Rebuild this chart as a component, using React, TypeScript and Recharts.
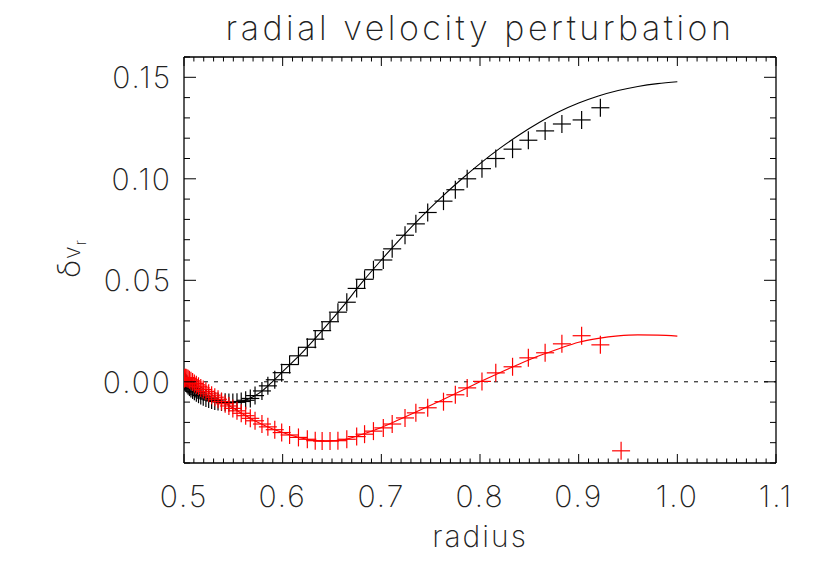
import React from 'react';
import { ComposedChart, Scatter, Line, XAxis, YAxis, Label } from 'recharts';

// ---- data ----
const markerRadius = [
  0.5, 0.5005, 0.5012, 0.502, 0.503, 0.5042, 0.5055, 0.507, 0.5087, 0.5105,
  0.5125, 0.5147, 0.517, 0.5195, 0.5222, 0.525, 0.528, 0.5312, 0.5345, 0.538,
  0.5417, 0.5455, 0.5495, 0.5537, 0.558, 0.5625, 0.5672, 0.572, 0.579, 0.585,
  0.592, 0.599, 0.607, 0.616, 0.625, 0.633, 0.64, 0.648, 0.656, 0.665,
  0.675, 0.683, 0.692, 0.702, 0.711, 0.724, 0.735, 0.747, 0.763, 0.775,
  0.787, 0.802, 0.816, 0.833, 0.849, 0.866, 0.883, 0.903, 0.922, 0.943,
];

const blackMarkerValues = [
  0.001, 0.0005, 0.0, -0.0006, -0.0012, -0.0019, -0.0026, -0.0033, -0.004, -0.0047,
  -0.0054, -0.0061, -0.0068, -0.0074, -0.008, -0.0085, -0.009, -0.0094, -0.0097, -0.0099,
  -0.0101, -0.0102, -0.0102, -0.0101, -0.0097, -0.0091, -0.0082, -0.0068, -0.0045, -0.002,
  0.001, 0.0045, 0.0085, 0.0128, 0.017, 0.021, 0.0252, 0.0296, 0.0343, 0.0392,
  0.046, 0.0505, 0.0552, 0.06, 0.0655, 0.0722, 0.0778, 0.0834, 0.089, 0.0946,
  0.1, 0.105, 0.11, 0.1146, 0.119, 0.1236, 0.127, 0.129, 0.135,
];

const redMarkerValues = [
  0.0015, 0.0018, 0.002, 0.002, 0.0018, 0.0015, 0.001, 0.0005, -0.0001, -0.0008,
  -0.0015, -0.0022, -0.003, -0.0038, -0.0047, -0.0056, -0.0066, -0.0076, -0.0086, -0.0097,
  -0.0108, -0.0119, -0.0131, -0.0143, -0.0155, -0.0167, -0.018, -0.0192, -0.0208, -0.0222,
  -0.0236, -0.025, -0.0262, -0.0274, -0.0283, -0.029, -0.0292, -0.0292, -0.029, -0.0283,
  -0.027, -0.0258, -0.0243, -0.0227, -0.0208, -0.0178, -0.0153, -0.0128, -0.0098, -0.0064,
  -0.003, 0.0002, 0.0044, 0.0074, 0.0118, 0.0143, 0.0187, 0.0227, 0.0182, -0.034,
];

const curveRadius = [
  0.5, 0.505, 0.51, 0.52, 0.53, 0.54, 0.55, 0.56, 0.57, 0.58,
  0.59, 0.6, 0.62, 0.64, 0.66, 0.68, 0.7, 0.72, 0.74, 0.76,
  0.78, 0.8, 0.82, 0.84, 0.86, 0.88, 0.9, 0.92, 0.94, 0.96,
  0.98, 1.0,
];

const blackCurveValues = [
  0.0012, -0.0022, -0.0045, -0.0075, -0.0092, -0.01, -0.0102, -0.0094, -0.0074, -0.0042,
  0.0002, 0.005, 0.0145, 0.0252, 0.0365, 0.0487, 0.06, 0.0708, 0.081, 0.0905,
  0.0993, 0.1075, 0.115, 0.1217, 0.1277, 0.133, 0.1373, 0.1408, 0.1435, 0.1455,
  0.1469, 0.1478,
];

const redCurveValues = [
  0.002, 0.0008, -0.0005, -0.0035, -0.007, -0.01, -0.013, -0.016, -0.0188, -0.0212,
  -0.0233, -0.025, -0.0278, -0.0292, -0.0287, -0.026, -0.0225, -0.0182, -0.0138, -0.0093,
  -0.0047, 0.0, 0.0045, 0.0088, 0.0128, 0.0163, 0.0195, 0.0214, 0.0226, 0.0231,
  0.023, 0.0225,
];

const zeroLineRadius = [0.5, 1.1];
const zeroLineValues = [0, 0];

const xMajorTicks = [0.5, 0.6, 0.7, 0.8, 0.9, 1.0, 1.1];
const yMajorTicks = [0.0, 0.05, 0.1, 0.15];
const xDomain: [number, number] = [0.5, 1.1];
const yDomain: [number, number] = [-0.04, 0.16];

const titleText = 'radial velocity perturbation';
const xLabelText = 'radius';

// ---- derived tables ----
const zip = (rs: number[], vs: number[]) =>
  vs.map((v, i) => ({ r: rs[i], v }));

const blackMarkers = zip(markerRadius, blackMarkerValues);
const redMarkers = zip(markerRadius, redMarkerValues);
const blackCurve = zip(curveRadius, blackCurveValues);
const redCurve = zip(curveRadius, redCurveValues);
const zeroLine = zip(zeroLineRadius, zeroLineValues);

const xMinorTicks: number[] = [];
for (let i = 50; i <= 110; i++) xMinorTicks.push(i / 100);
const yMinorTicks: number[] = [];
for (let i = -4; i <= 16; i++) yMinorTicks.push(i / 100);

const isMajor = (v: number, majors: number[]) =>
  majors.some((m) => Math.abs(m - v) < 1e-9);

const FONT = "Inter, 'DejaVu Sans', sans-serif";
const INK = '#000';

const textStyle: React.CSSProperties = {
  fontFamily: FONT,
  fontWeight: 200,
  letterSpacing: '2px',
};

const BottomTick = (props: any) => {
  const { x, y, payload } = props;
  const major = isMajor(payload.value, xMajorTicks);
  return (
    <g>
      <line x1={x} x2={x} y1={y} y2={y - (major ? 9 : 4.5)} stroke={INK} strokeWidth={1} />
      {major && (
        <text
          x={x}
          y={y + 44}
          textAnchor="middle"
          fontSize={30}
          fill="#222"
          style={textStyle}
        >
          {payload.value.toFixed(1)}
        </text>
      )}
    </g>
  );
};

const TopTick = (props: any) => {
  const { x, y, payload } = props;
  const major = isMajor(payload.value, xMajorTicks);
  return <line x1={x} x2={x} y1={y} y2={y + (major ? 9 : 4.5)} stroke={INK} strokeWidth={1} />;
};

const LeftTick = (props: any) => {
  const { x, y, payload } = props;
  const major = isMajor(payload.value, yMajorTicks);
  return (
    <g>
      <line x1={x} x2={x + (major ? 12 : 6)} y1={y} y2={y} stroke={INK} strokeWidth={1} />
      {major && (
        <text
          x={x - 12}
          y={y + 11}
          textAnchor="end"
          fontSize={30}
          fill="#222"
          style={textStyle}
        >
          {payload.value.toFixed(2)}
        </text>
      )}
    </g>
  );
};

const RightTick = (props: any) => {
  const { x, y, payload } = props;
  const major = isMajor(payload.value, yMajorTicks);
  return <line x1={x} x2={x - (major ? 12 : 6)} y1={y} y2={y} stroke={INK} strokeWidth={1} />;
};

const makePlus = (color: string) => (p: any) => {
  const { cx, cy } = p;
  if (cx == null || cy == null) return <g />;
  const a = 9;
  return (
    <g>
      <line x1={cx - a} x2={cx + a} y1={cy} y2={cy} stroke={color} strokeWidth={1.2} />
      <line x1={cx} x2={cx} y1={cy - a} y2={cy + a} stroke={color} strokeWidth={1.2} />
    </g>
  );
};

const TitleContent = (props: any) => {
  const vb = props.viewBox || {};
  return (
    <text
      x={vb.x + vb.width / 2}
      y={vb.y - 7}
      textAnchor="middle"
      fontSize={34}
      fill="#222"
      style={{ ...textStyle, letterSpacing: '3.5px' }}
    >
      {titleText}
    </text>
  );
};

const XLabelContent = (props: any) => {
  const vb = props.viewBox || {};
  return (
    <text
      x={vb.x + vb.width / 2}
      y={vb.y + 84}
      textAnchor="middle"
      fontSize={30}
      fill="#222"
      style={textStyle}
    >
      {xLabelText}
    </text>
  );
};

const YLabelContent = () => {
  const bx = 72;
  const by = 270;
  return (
    <text
      transform={`translate(${bx},${by}) rotate(-90)`}
      x={0}
      y={0}
      fill="#222"
      style={{ fontFamily: FONT, fontWeight: 200 }}
    >
      <tspan fontSize={31}>δ</tspan>
      <tspan fontSize={23} dx={1}>v</tspan>
      <tspan fontSize={15} dy={6} dx={1}>r</tspan>
    </text>
  );
};

export default function App() {
  return (
    <ComposedChart
      width={822}
      height={573}
      margin={{ top: 39, right: 44, bottom: 58, left: 76 }}
      style={{ background: '#fff' }}
    >
      <XAxis
        xAxisId="b"
        orientation="bottom"
        dataKey="r"
        type="number"
        domain={xDomain}
        allowDataOverflow
        ticks={xMinorTicks}
        interval={0}
        tickSize={0}
        tickMargin={0}
        tickLine={false}
        tick={<BottomTick />}
        axisLine={{ stroke: INK, strokeWidth: 1.3 }}
        height={60}
      >
        <Label content={<XLabelContent />} />
      </XAxis>
      <XAxis
        xAxisId="t"
        orientation="top"
        dataKey="r"
        type="number"
        domain={xDomain}
        allowDataOverflow
        ticks={xMinorTicks}
        interval={0}
        tickSize={0}
        tickMargin={0}
        tickLine={false}
        tick={<TopTick />}
        axisLine={{ stroke: INK, strokeWidth: 1.3 }}
        height={10}
      >
        <Label content={<TitleContent />} />
      </XAxis>
      <YAxis
        yAxisId="l"
        orientation="left"
        dataKey="v"
        type="number"
        domain={yDomain}
        allowDataOverflow
        ticks={yMinorTicks}
        interval={0}
        tickSize={0}
        tickMargin={0}
        tickLine={false}
        tick={<LeftTick />}
        axisLine={{ stroke: INK, strokeWidth: 1.3 }}
        width={100}
      >
        <Label content={<YLabelContent />} />
      </YAxis>
      <YAxis
        yAxisId="r"
        orientation="right"
        dataKey="v"
        type="number"
        domain={yDomain}
        allowDataOverflow
        ticks={yMinorTicks}
        interval={0}
        tickSize={0}
        tickMargin={0}
        tickLine={false}
        tick={<RightTick />}
        axisLine={{ stroke: INK, strokeWidth: 1.3 }}
        width={10}
      />
      <Line
        xAxisId="t"
        yAxisId="r"
        data={zeroLine}
        dataKey="v"
        type="linear"
        stroke={INK}
        strokeWidth={1}
        strokeDasharray="4 6"
        dot={false}
        activeDot={false}
        isAnimationActive={false}
      />
      <Line
        xAxisId="b"
        yAxisId="l"
        data={blackCurve}
        dataKey="v"
        type="monotone"
        stroke={INK}
        strokeWidth={1.1}
        dot={false}
        activeDot={false}
        isAnimationActive={false}
      />
      <Line
        xAxisId="b"
        yAxisId="l"
        data={redCurve}
        dataKey="v"
        type="monotone"
        stroke="#ff0000"
        strokeWidth={1.1}
        dot={false}
        activeDot={false}
        isAnimationActive={false}
      />
      <Scatter
        xAxisId="b"
        yAxisId="l"
        data={blackMarkers}
        dataKey="v"
        shape={makePlus('#000')}
        isAnimationActive={false}
      />
      <Scatter
        xAxisId="b"
        yAxisId="l"
        data={redMarkers}
        dataKey="v"
        shape={makePlus('#ff0000')}
        isAnimationActive={false}
      />
    </ComposedChart>
  );
}
